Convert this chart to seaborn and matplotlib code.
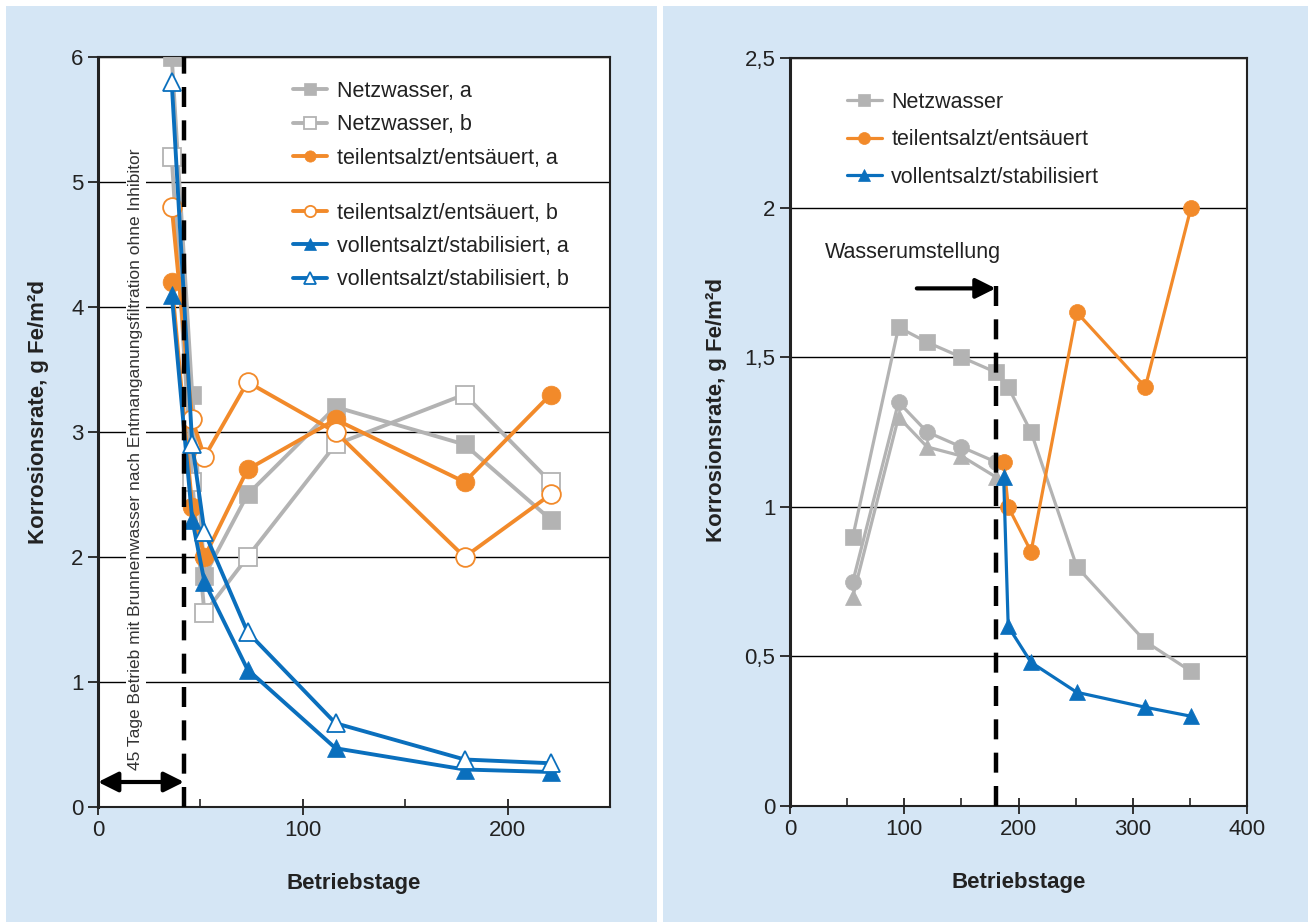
import matplotlib
matplotlib.use("Agg")
import matplotlib.pyplot as plt
from matplotlib.patches import Rectangle
from matplotlib import ticker
import seaborn as sns

# left panel: common sampling days
days_left = [36, 46, 52, 73, 116, 179, 221]
netz_a = [6.0, 3.3, 1.85, 2.5, 3.2, 2.9, 2.3]
netz_b = [5.2, 2.6, 1.55, 2.0, 2.9, 3.3, 2.6]
teil_a = [4.2, 2.4, 2.0, 2.7, 3.1, 2.6, 3.3]
teil_b = [4.8, 3.1, 2.8, 3.4, 3.0, 2.0, 2.5]
voll_a = [4.1, 2.3, 1.8, 1.1, 0.47, 0.3, 0.28]
voll_b = [5.8, 2.9, 2.2, 1.4, 0.67, 0.38, 0.35]
labels_left = ["Netzwasser, a", "Netzwasser, b", "teilentsalzt/entsäuert, a",
               "teilentsalzt/entsäuert, b", "vollentsalzt/stabilisiert, a",
               "vollentsalzt/stabilisiert, b"]
switch_left = 42

# right panel
days_netz = [55, 95, 120, 150, 180, 191, 211, 251, 311, 351]
netz = [0.9, 1.6, 1.55, 1.5, 1.45, 1.4, 1.25, 0.8, 0.55, 0.45]
days_before = [55, 95, 120, 150, 180]
teil_before = [0.75, 1.35, 1.25, 1.2, 1.15]
voll_before = [0.7, 1.3, 1.2, 1.17, 1.1]
days_after = [187, 191, 211, 251, 311, 351]
teil_after = [1.15, 1.0, 0.85, 1.65, 1.4, 2.0]
voll_after = [1.1, 0.6, 0.48, 0.38, 0.33, 0.30]
labels_right = ["Netzwasser", "teilentsalzt/entsäuert", "vollentsalzt/stabilisiert"]
switch_right = 180

GRAY = "#b3b3b3"
ORANGE = "#f28a2a"
BLUE = "#0a6fbd"
BG = "#d5e6f5"
TXT = "#222222"

sns.set_style("ticks")
plt.rcParams["font.family"] = ["Liberation Sans", "DejaVu Sans"]
plt.rcParams["text.color"] = TXT
plt.rcParams["axes.labelcolor"] = TXT

fig = plt.figure(figsize=(13.08, 9.22), dpi=100, facecolor="white")
fig.patches.append(Rectangle((6 / 1308, 0), 651 / 1308, 916 / 922, lw=0,
                             transform=fig.transFigure, facecolor=BG, zorder=-5))
fig.patches.append(Rectangle((663 / 1308, 0), 645 / 1308, 916 / 922, lw=0,
                             transform=fig.transFigure, facecolor=BG, zorder=-5))

ax1 = fig.add_axes([98 / 1308, 115 / 922, 512 / 1308, 750 / 922])
ax2 = fig.add_axes([790 / 1308, 116 / 922, 457 / 1308, 748 / 922])


def draw(ax, x, y, color, marker, filled, ms, lw, label=None):
    sns.lineplot(x=x, y=y, ax=ax, color=color, marker=marker, markersize=ms,
                 markerfacecolor=color if filled else "white",
                 markeredgecolor=color, markeredgewidth=1.3 if not filled else 0.5,
                 linewidth=lw, sort=False, estimator=None,
                 label=label if label else "_nolegend_", legend=False, zorder=3)


# ---- left panel
left_series = [(netz_a, GRAY, "s", True), (netz_b, GRAY, "s", False),
               (teil_a, ORANGE, "o", True), (teil_b, ORANGE, "o", False),
               (voll_a, BLUE, "^", True), (voll_b, BLUE, "^", False)]
for (vals, col, mk, filled), lab in zip(left_series, labels_left):
    draw(ax1, days_left, vals, col, mk, filled, 13.5, 2.8, lab)

ax1.set_xlim(0, 250)
ax1.set_ylim(0, 6)
ax1.axvline(switch_left, color="black", lw=3.2, ls=(0, (4.5, 3)), zorder=4)
ax1.annotate("", xy=(0, 0.2), xytext=(switch_left, 0.2),
             arrowprops=dict(arrowstyle="<|-|>", lw=3, color="black",
                             mutation_scale=30, shrinkA=0, shrinkB=0), zorder=4)
ax1.text(18.5, 2.78, "45 Tage Betrieb mit Brunnenwasser nach Entmanganungsfiltration ohne Inhibitor",
         rotation=90, ha="center", va="center", fontsize=12.5, color="#333333",
         bbox=dict(facecolor="white", edgecolor="none", pad=2), zorder=2)

leg_kw = dict(loc="upper left", frameon=False, fontsize=15.5, handlelength=1.6,
              handletextpad=0.45, borderpad=0, borderaxespad=0)
h, l = ax1.get_legend_handles_labels()
leg1 = ax1.legend(h[:3], l[:3], bbox_to_anchor=(0.38, 0.968), labelspacing=0.58,
                  markerscale=0.6, **leg_kw)
ax1.add_artist(leg1)
ax1.legend(h[3:], l[3:], bbox_to_anchor=(0.38, 0.806), labelspacing=0.58,
           markerscale=0.6, **leg_kw)

ax1.set_xticks([0, 100, 200])
ax1.set_xticks([50, 150], minor=True)
ax1.set_yticks(range(0, 7))

# ---- right panel
draw(ax2, days_before, teil_before, GRAY, "o", True, 11.5, 2.3)
draw(ax2, days_before, voll_before, GRAY, "^", True, 11.5, 2.3)
draw(ax2, days_netz, netz, GRAY, "s", True, 12, 2.3, labels_right[0])
draw(ax2, days_after, teil_after, ORANGE, "o", True, 11.5, 2.3, labels_right[1])
draw(ax2, days_after, voll_after, BLUE, "^", True, 11.5, 2.3, labels_right[2])

ax2.set_xlim(0, 400)
ax2.set_ylim(0, 2.5)
ax2.plot([switch_right, switch_right], [0, 1.75], color="black", lw=3.2,
         ls=(0, (4.5, 3)), zorder=4)
ax2.annotate("", xy=(switch_right, 1.73), xytext=(111, 1.73),
             arrowprops=dict(arrowstyle="-|>", lw=3, color="black",
                             mutation_scale=30, shrinkA=0, shrinkB=0), zorder=4)
ax2.text(108, 1.85, "Wasserumstellung", ha="center", va="center", fontsize=15.5)
ax2.legend(bbox_to_anchor=(0.125, 0.955), labelspacing=0.77, markerscale=0.75,
           **leg_kw)

ax2.set_xticks([0, 100, 200, 300, 400])
ax2.set_xticks([50, 150, 250, 350], minor=True)
ax2.set_yticks([0, 0.5, 1, 1.5, 2, 2.5])
ax2.yaxis.set_major_formatter(ticker.FuncFormatter(lambda v, p: f"{v:g}".replace(".", ",")))

for ax, lx, ly in [(ax1, -0.095, 0.527), (ax2, -0.138, 0.529)]:
    ax.set_facecolor("white")
    ax.yaxis.grid(True, color="black", lw=1)
    ax.set_axisbelow(True)
    for s in ax.spines.values():
        s.set_visible(True)
        s.set_color("#222222")
        s.set_linewidth(1.5)
    ax.spines["left"].set_linewidth(2.2)
    ax.tick_params(axis="both", which="major", labelsize=16, colors=TXT,
                   length=7, width=1.3)
    ax.tick_params(axis="x", which="major", direction="inout", length=12)
    ax.tick_params(axis="x", which="minor", direction="in", length=6, width=1.2)
    ax.tick_params(axis="y", which="major", direction="out", length=7)
    ax.set_xlabel("Betriebstage", fontsize=16, fontweight="bold")
    ax.set_ylabel("Korrosionsrate, g Fe/m²d", fontsize=16, fontweight="bold")
    ax.yaxis.set_label_coords(lx, ly)
    ax.xaxis.set_label_coords(0.5, -0.088)

fig.savefig("out.png", dpi=100)
